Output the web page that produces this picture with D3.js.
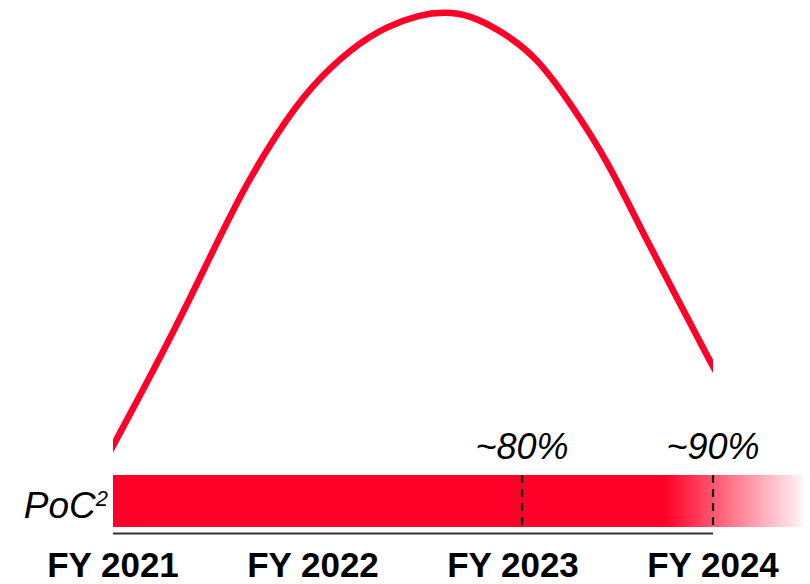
<!DOCTYPE html>
<html>
<head>
<meta charset="utf-8">
<script src="https://cdn.jsdelivr.net/npm/d3@7"></script>
<style>
  html, body { margin: 0; padding: 0; background: #fff; }
  svg { display: block; }
  text { font-family: "Liberation Sans", Arial, sans-serif; }
</style>
</head>
<body>
<svg id="chart" width="810" height="584"></svg>
<script>
// ---- Data ----
const fyYears = [2021, 2022, 2023, 2024];
const fyLabels = ["FY 2021", "FY 2022", "FY 2023", "FY 2024"];

const curveYears  = [2020.98, 2021.15, 2021.32, 2021.485, 2021.65, 2021.82, 2021.985, 2022.2, 2022.37, 2022.535, 2022.65, 2022.785, 2022.95, 2023.12, 2023.3, 2023.47, 2023.635, 2023.8, 2023.995, 2024.02];
const curveValues = [3.6, 17.4, 31.5, 46.3, 60.9, 73.3, 83.3, 92.0, 96.5, 99.0, 99.6, 99.0, 95.2, 89.8, 78.9, 67.4, 52.8, 39.1, 22.8, 21.0];

const barLabel = "PoC";
const barStart = 2021.0;
const barSolidEnd = 2023.76;
const barEnd = 2024.45;

const markerYears = [2023.045, 2024.0];
const markerLabels = ["~80%", "~90%"];

// ---- Layout ----
const svg = d3.select("#chart");
const red = "#FF0028";

const x = d3.scaleLinear().domain([2021, 2024]).range([113, 713]);
const y = d3.scaleLinear().domain([0, 100]).range([470, 10]);

const barTop = 475, barBottom = 527;

const defs = svg.append("defs");
defs.append("clipPath").attr("id", "curveClip")
  .append("rect")
  .attr("x", x(2021)).attr("y", 0)
  .attr("width", x(2024) - x(2021)).attr("height", 470);

const grad = defs.append("linearGradient")
  .attr("id", "barGrad")
  .attr("gradientUnits", "userSpaceOnUse")
  .attr("x1", x(barStart)).attr("x2", x(barEnd))
  .attr("y1", 0).attr("y2", 0);
const solidFrac = (x(barSolidEnd) - x(barStart)) / (x(barEnd) - x(barStart));
grad.append("stop").attr("offset", 0).attr("stop-color", red).attr("stop-opacity", 1);
grad.append("stop").attr("offset", solidFrac).attr("stop-color", red).attr("stop-opacity", 1);
grad.append("stop").attr("offset", 1).attr("stop-color", red).attr("stop-opacity", 0.04);

const line = d3.line()
  .x((d, i) => x(curveYears[i]))
  .y(d => y(d))
  .curve(d3.curveBasis);

svg.append("path")
  .datum(curveValues)
  .attr("d", line)
  .attr("clip-path", "url(#curveClip)")
  .attr("fill", "none")
  .attr("stroke", red)
  .attr("stroke-width", 6.5);

svg.append("rect")
  .attr("x", x(barStart))
  .attr("y", barTop)
  .attr("width", x(barEnd) - x(barStart))
  .attr("height", barBottom - barTop)
  .attr("fill", "url(#barGrad)");

svg.append("line")
  .attr("x1", x(2021)).attr("x2", x(2024))
  .attr("y1", 533.5).attr("y2", 533.5)
  .attr("stroke", "#333")
  .attr("stroke-width", 2);

svg.selectAll(".marker")
  .data(markerYears)
  .enter().append("line")
  .attr("class", "marker")
  .attr("x1", d => x(d)).attr("x2", d => x(d))
  .attr("y1", barTop).attr("y2", barBottom)
  .attr("stroke", "#111")
  .attr("stroke-width", 2.2)
  .attr("stroke-dasharray", "8,6");

svg.selectAll(".mlabel")
  .data(markerYears)
  .enter().append("text")
  .attr("class", "mlabel")
  .attr("x", d => x(d))
  .attr("y", 459)
  .attr("text-anchor", "middle")
  .attr("font-size", 36)
  .attr("font-style", "italic")
  .attr("fill", "#000")
  .text((d, i) => markerLabels[i]);

const poc = svg.append("text")
  .attr("x", 108)
  .attr("y", 518)
  .attr("text-anchor", "end")
  .attr("font-size", 37)
  .attr("font-style", "italic")
  .attr("fill", "#000");
poc.append("tspan").text(barLabel);
poc.append("tspan").attr("font-size", 22).attr("dy", -12).text("2");

svg.selectAll(".fy")
  .data(fyYears)
  .enter().append("text")
  .attr("class", "fy")
  .attr("x", d => x(d))
  .attr("y", 577)
  .attr("text-anchor", "middle")
  .attr("font-size", 35)
  .attr("font-weight", "bold")
  .attr("fill", "#000")
  .text((d, i) => fyLabels[i]);
</script>
</body>
</html>
